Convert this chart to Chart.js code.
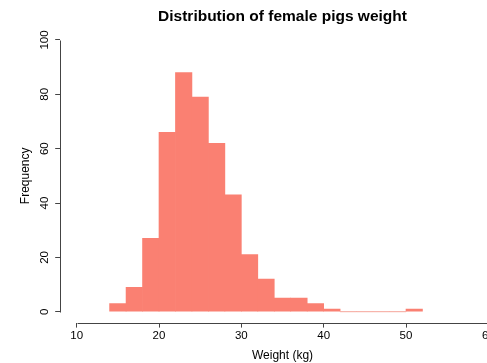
<!DOCTYPE html>
<html>
<head>
<meta charset="utf-8">
<script src="https://cdn.jsdelivr.net/npm/chart.js@4"></script>
<style>
  html, body { margin: 0; padding: 0; background: #fff; overflow: hidden; }
  #wrap { width: 487px; height: 363px; overflow: hidden; }
</style>
</head>
<body>
<div id="wrap"><canvas id="histChart" width="520" height="363"></canvas></div>
<script>
// histogram bins (kg), width 2
var binStarts = [14, 16, 18, 20, 22, 24, 26, 28, 30, 32, 34, 36, 38, 40, 42, 44, 46, 48, 50];
var binWidth = 2;
var counts = [3, 9, 27, 66, 88, 79, 62, 43, 21, 12, 5, 5, 3, 1, 0, 0, 0, 0, 1];
var xTicks = [10, 20, 30, 40, 50, 60];
var yTicks = [0, 20, 40, 60, 80, 100];

var barData = binStarts.map(function (s, i) {
  return { x: s + binWidth / 2, y: counts[i] };
});

// empty bins still get their outline at zero, like R does
var zeroLine = [];
binStarts.forEach(function (s, i) {
  if (counts[i] === 0) {
    zeroLine.push({ x: s, y: 0 });
    zeroLine.push({ x: s + binWidth, y: 0 });
  }
});

var axisColor = '#444';
var fontFamily = "'Liberation Sans', Arial, sans-serif";

// R style axes: line only runs from first to last tick
var axisLines = {
  id: 'axisLines',
  afterDraw: function (chart) {
    var ctx = chart.ctx;
    var area = chart.chartArea;
    var xs = chart.scales.x, ys = chart.scales.y;
    ctx.save();
    ctx.strokeStyle = axisColor;
    ctx.lineWidth = 1;
    var yb = Math.round(area.bottom) + 0.5;
    ctx.beginPath();
    ctx.moveTo(Math.round(xs.getPixelForValue(xTicks[0])) + 0.5, yb);
    ctx.lineTo(Math.round(xs.getPixelForValue(xTicks[xTicks.length - 1])) + 0.5, yb);
    ctx.stroke();
    var xl = Math.round(area.left) + 0.5;
    ctx.beginPath();
    ctx.moveTo(xl, Math.round(ys.getPixelForValue(yTicks[0])) + 0.5);
    ctx.lineTo(xl, Math.round(ys.getPixelForValue(yTicks[yTicks.length - 1])) + 0.5);
    ctx.stroke();
    ctx.restore();
  }
};

var ctx = document.getElementById('histChart');
var chart = new Chart(ctx, {
  type: 'bar',
  data: {
    datasets: [
      {
        type: 'line',
        data: zeroLine,
        borderColor: '#F7B3A9',
        borderWidth: 1,
        pointRadius: 0,
        fill: false,
        order: 0
      },
      {
        data: barData,
        backgroundColor: '#FA8072',
        borderWidth: 0,
        barPercentage: 1,
        categoryPercentage: 1,
        order: 1
      }
    ]
  },
  options: {
    responsive: false,
    animation: false,
    layout: { padding: { left: 0, right: 15.2, top: 0, bottom: 0 } },
    plugins: {
      legend: { display: false },
      tooltip: { enabled: false },
      title: {
        display: true,
        fullSize: false,
        text: 'Distribution of female pigs weight',
        color: '#000',
        font: { family: fontFamily, size: 15.5, weight: 'bold' },
        padding: { top: 7, bottom: 3.5 }
      }
    },
    scales: {
      x: {
        type: 'linear',
        min: 8,
        max: 62,
        offset: false,
        afterBuildTicks: function (scale) {
          scale.ticks = xTicks.map(function (v) { return { value: v }; });
        },
        afterFit: function (scale) { scale.height = 40.4; },
        border: { display: false },
        grid: { display: true, drawOnChartArea: false, drawTicks: true, tickLength: 5, color: axisColor, offset: false },
        ticks: {
          color: '#000',
          font: { family: fontFamily, size: 11.5 },
          padding: 1,
          maxRotation: 0,
          autoSkip: false
        },
        title: {
          display: true,
          text: 'Weight (kg)',
          color: '#000',
          font: { family: fontFamily, size: 12 },
          padding: { top: 0, bottom: 0.5 }
        }
      },
      y: {
        min: -4,
        max: 104,
        afterBuildTicks: function (scale) {
          scale.ticks = yTicks.map(function (v) { return { value: v }; });
        },
        afterFit: function (scale) { scale.width = 60.2; },
        border: { display: false },
        grid: { display: true, drawOnChartArea: false, drawTicks: true, tickLength: 5, color: axisColor },
        ticks: {
          color: '#000',
          font: { family: fontFamily, size: 11.5 },
          padding: 1,
          minRotation: 90,
          maxRotation: 90,
          crossAlign: 'center',
          autoSkip: false
        },
        title: {
          display: true,
          text: 'Frequency',
          color: '#000',
          font: { family: fontFamily, size: 12 },
          padding: { top: 18, bottom: 0 }
        }
      }
    }
  },
  plugins: [axisLines]
});
</script>
</body>
</html>
